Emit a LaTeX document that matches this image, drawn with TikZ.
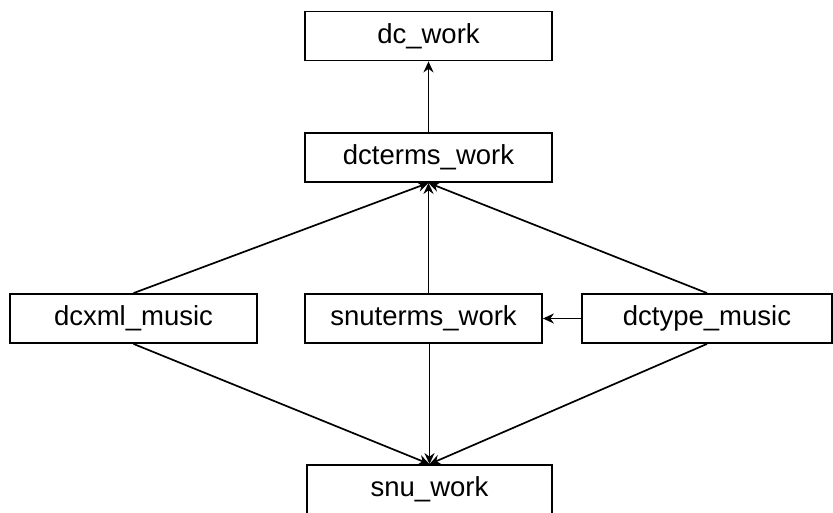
\documentclass[tikz,border=0pt]{standalone}
\usepackage{fontspec}
\setmainfont{Liberation Sans}
\usepackage{tikz}
\usetikzlibrary{arrows.meta}
\tikzstyle{box}   = [rectangle, draw=black, line width=1.8pt, minimum height=49pt, inner sep=0pt, font=\fontsize{27.5}{32}\selectfont]
\tikzstyle{arrow} = [line width=1.7pt,->,>={Stealth[length=11pt,width=10pt]}]

\begin{document}
\begin{tikzpicture}[x=1pt,y=-1pt]
		\useasboundingbox (0,0) rectangle (833,512);

		\node[box, minimum width=247pt] (dc)       at (428.5,36)    {dc\_work};
		\node[box, minimum width=247pt] (dcterms)  at (428.5,157.5) {dcterms\_work};
		\node[box, minimum width=247pt] (dcxml)    at (133.5,318.5) {dcxml\_music};
		\node[box, minimum width=237pt] (snuterms) at (423.5,318.5) {snuterms\_work};
		\node[box, minimum width=250pt] (dctype)   at (707,318.5)   {dctype\_music};
		\node[box, minimum width=245pt] (snu)      at (429.5,489.5) {snu\_work};

		\draw[arrow] (dcterms.north) -- (dc.south);
		\draw[arrow] (dcxml.north) -- (dcterms.south);
		\draw[arrow] (snuterms.north -| dcterms.south) -- (dcterms.south);
		\draw[arrow] (dctype.north) -- (dcterms.south);
		\draw[arrow] (dctype.west) -- (snuterms.east);

		\draw[arrow] (dcxml.south) -- (snu.north);
		\draw[arrow] (snuterms.south -| snu.north) -- (snu.north);
		\draw[arrow] (dctype.south) -- (snu.north);
	\end{tikzpicture}
\end{document}
